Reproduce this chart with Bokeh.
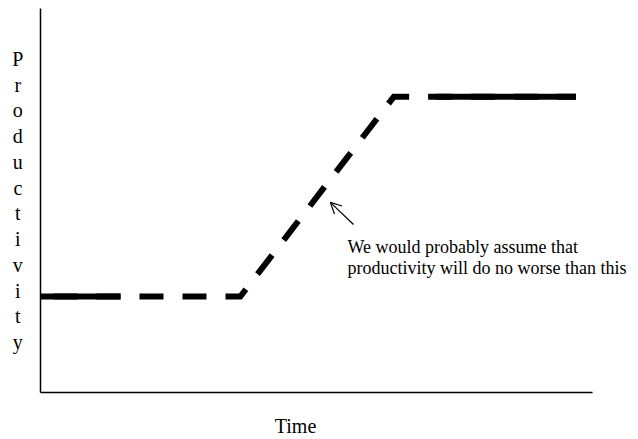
from bokeh.plotting import figure
from bokeh.models import Range1d, Label, Arrow, OpenHead
from bokeh.embed import file_html
from bokeh.resources import INLINE

# ---- data (abstract units) ----
time = [0, 3.62, 6.4, 9.7]
productivity = [2.5, 2.5, 7.7, 7.7]
solid_low_time = [0, 1.45]
solid_low_prod = [2.5, 2.5]
solid_high_time = [7.16, 9.7]
solid_high_prod = [7.7, 7.7]
axis_x_extent = [0, 10]
axis_y_extent = [0, 10]
note_lines = ["We would probably assume that",
              "productivity will do no worse than this"]
x_title = "Time"
y_title = "Productivity"

FONT = "Liberation Serif"

# frame covers the whole canvas; axes are drawn as plain lines
p = figure(width=638, height=439, output_backend="svg", toolbar_location=None,
           x_range=Range1d(-0.7246, 10.833), y_range=Range1d(-1.224, 10.208),
           x_axis_location=None, y_axis_location=None,
           min_border=0)
p.outline_line_color = None
p.grid.visible = False
p.background_fill_color = "white"
p.border_fill_color = "white"

# axis lines
p.line([axis_x_extent[0], axis_x_extent[0]], axis_y_extent,
       line_color="black", line_width=1.5)
p.line(axis_x_extent, [axis_y_extent[0], axis_y_extent[0]],
       line_color="black", line_width=1.5)

# dashed productivity path
p.line(time, productivity, line_color="black", line_width=6,
       line_dash="24 19", line_dash_offset=30, line_cap="butt", line_join="miter")
# solid stretches at both ends
p.line(solid_low_time, solid_low_prod, line_color="black", line_width=6, line_cap="butt")
p.line(solid_high_time, solid_high_prod, line_color="black", line_width=6, line_cap="butt")

# arrow pointing to the rising segment
p.add_layout(Arrow(end=OpenHead(size=11, line_width=1.2, line_color="black"),
                   x_start=5.67, y_start=4.375, x_end=5.25, y_end=4.95,
                   line_color="black", line_width=1.2))

# annotation text
p.add_layout(Label(x=5.56, y=3.80, text=note_lines[0], text_font=FONT,
                   text_font_size="18px", text_baseline="alphabetic", text_color="black"))
p.add_layout(Label(x=5.56, y=3.23, text=note_lines[1], text_font=FONT,
                   text_font_size="18px", text_baseline="alphabetic", text_color="black"))

# axis titles
p.add_layout(Label(x=4.62, y=-0.885, text=x_title, text_font=FONT,
                   text_font_size="20px", text_align="center",
                   text_baseline="alphabetic", text_color="black"))
p.add_layout(Label(x=-0.41, y=5.0, text="\n".join(y_title), text_font=FONT,
                   text_font_size="20px", text_align="center",
                   text_baseline="middle", text_line_height=1.17, text_color="black"))

open("out.html", "w").write(file_html(p, INLINE))
